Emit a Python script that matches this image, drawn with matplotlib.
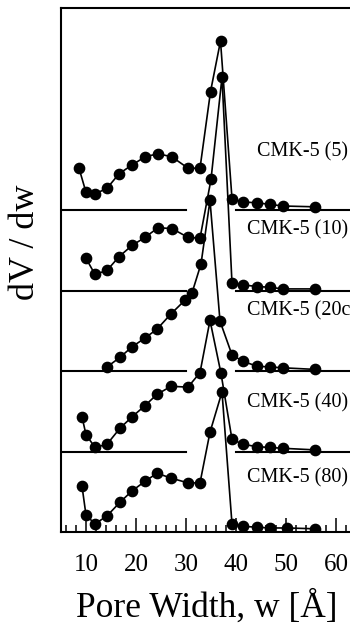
import matplotlib
matplotlib.use('Agg')
import matplotlib.pyplot as plt
from matplotlib.ticker import MultipleLocator

plt.rcParams['font.family'] = ['Liberation Serif', 'DejaVu Serif']

labels = ['CMK-5 (5)', 'CMK-5 (10)', 'CMK-5 (20c)', 'CMK-5 (40)', 'CMK-5 (80)']
offsets = [4, 3, 2, 1, 0]

# pore width [A] and dV/dw (relative to each curve's own baseline)
w5 = [8.6, 10, 11.8, 14.2, 16.6, 19.2, 21.8, 24.4, 27.2, 30.4, 32.8, 34.9, 36.9,
      39.2, 41.4, 44.2, 46.8, 49.4, 55.8]
v5 = [0.52, 0.22, 0.20, 0.27, 0.45, 0.56, 0.66, 0.70, 0.66, 0.52, 0.52, 1.47, 2.10,
      0.14, 0.10, 0.09, 0.07, 0.05, 0.04]

w10 = [10, 11.8, 14.2, 16.6, 19.2, 21.8, 24.4, 27.2, 30.4, 32.8, 35.0, 37.2,
       39.2, 41.4, 44.2, 46.8, 49.4, 55.8]
v10 = [0.40, 0.20, 0.25, 0.42, 0.56, 0.66, 0.78, 0.77, 0.66, 0.65, 1.38, 2.65,
       0.09, 0.07, 0.05, 0.04, 0.02, 0.02]

w20 = [14.2, 16.8, 19.2, 21.8, 24.2, 27.0, 29.8, 31.2, 33.0, 34.8, 36.8,
       39.2, 41.4, 44.2, 46.8, 49.4, 55.8]
v20 = [0.05, 0.17, 0.30, 0.41, 0.52, 0.71, 0.88, 0.97, 1.33, 2.12, 0.62,
       0.20, 0.12, 0.06, 0.05, 0.04, 0.02]

w40 = [9.2, 10, 11.8, 14.2, 16.8, 19.2, 21.8, 24.2, 27.0, 30.4, 32.8, 34.8, 37.0,
       39.2, 41.4, 44.2, 46.8, 49.4, 55.8]
v40 = [0.43, 0.21, 0.05, 0.09, 0.29, 0.43, 0.57, 0.71, 0.81, 0.80, 0.98, 1.63, 0.97,
       0.15, 0.09, 0.06, 0.05, 0.04, 0.02]

w80 = [9.2, 10, 11.8, 14.2, 16.8, 19.2, 21.8, 24.2, 27.0, 30.4, 32.8, 34.8, 37.2,
       39.2, 41.4, 44.2, 46.8, 50.2, 55.8]
v80 = [0.57, 0.21, 0.10, 0.20, 0.37, 0.51, 0.63, 0.73, 0.67, 0.61, 0.61, 1.24, 1.74,
       0.10, 0.07, 0.06, 0.05, 0.05, 0.04]

series_w = [w5, w10, w20, w40, w80]
series_v = [v5, v10, v20, v40, v80]
label_x = [44.2, 42.2, 42.2, 42.2, 42.2]
label_y = [4.72, 3.75, 2.75, 1.61, 0.67]

fig = plt.figure(figsize=(3.5, 6.28), dpi=100)
ax = fig.add_axes([61 / 350, 96 / 628, 300 / 350, 524 / 628])

for w, v, off in zip(series_w, series_v, offsets):
    ax.plot(w, [val + off for val in v], '-o', color='black', lw=1.2,
            ms=7.4, zorder=3)
    if off > 0:
        ax.plot([5, 30], [off, off], color='black', lw=1.5, zorder=2)
        ax.plot([40, 65], [off, off], color='black', lw=1.5, zorder=2)

for lab, lx, ly in zip(labels, label_x, label_y):
    ax.text(lx, ly, lab, fontsize=14.5, ha='left', va='center')

ax.set_xlim(5, 65)
ax.set_ylim(0, 6.51)
ax.spines['right'].set_visible(False)
for s in ['left', 'top', 'bottom']:
    ax.spines[s].set_linewidth(1.5)

ax.xaxis.set_major_locator(MultipleLocator(10))
ax.xaxis.set_minor_locator(MultipleLocator(2))
ax.tick_params(axis='x', which='major', direction='in', length=10, width=1.1,
               labelsize=18, pad=16)
ax.tick_params(axis='x', which='minor', direction='in', length=5, width=1.1)
ax.set_yticks([])

ax.set_xlabel('Pore Width, w [Å]', fontsize=25.5, labelpad=10)
ax.xaxis.label.set_x(0.485)
ax.set_ylabel('dV / dw', fontsize=26)
ax.yaxis.set_label_coords(-0.065, 0.553)

fig.savefig('out.png', dpi=100)
